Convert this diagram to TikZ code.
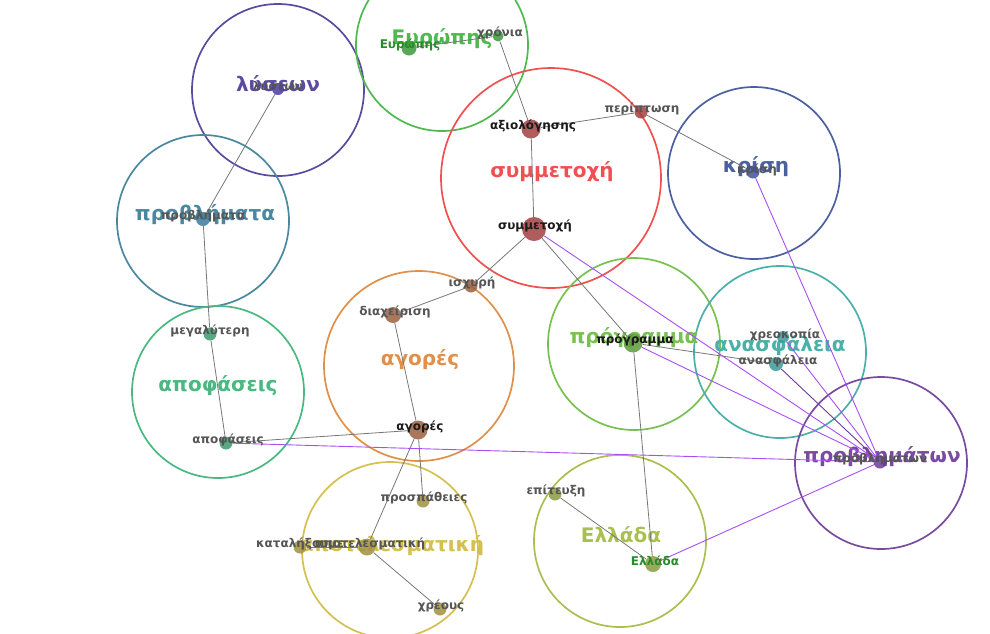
\documentclass[tikz,border=0pt]{standalone}
\usepackage{fontspec}
\setmainfont{DejaVu Sans}
\pgfdeclarelayer{bg}
\pgfdeclarelayer{edges}
\pgfsetlayers{bg,edges,main}
\definecolor{cLys}{HTML}{5A4AA0}
\definecolor{cEur}{HTML}{50B850}
\definecolor{cSym}{HTML}{F05050}
\definecolor{cKri}{HTML}{4A60A0}
\definecolor{cPro}{HTML}{4A88A0}
\definecolor{cAgo}{HTML}{E0904A}
\definecolor{cApo}{HTML}{4AB880}
\definecolor{cPrg}{HTML}{78C050}
\definecolor{cAsf}{HTML}{4AB0A8}
\definecolor{cPbm}{HTML}{7A4AA0}
\definecolor{cApt}{HTML}{D4C050}
\definecolor{cEll}{HTML}{A8C050}
\definecolor{dLys}{HTML}{4A3AA8}
\definecolor{dEur}{HTML}{3A9A3A}
\definecolor{dSym}{HTML}{A04040}
\definecolor{dKri}{HTML}{4050A0}
\definecolor{dPro}{HTML}{3A7A9A}
\definecolor{dAgo}{HTML}{9A6040}
\definecolor{dApo}{HTML}{3A9A6A}
\definecolor{dPrg}{HTML}{5A9A3A}
\definecolor{dAsf}{HTML}{3A9A9A}
\definecolor{dPbm}{HTML}{6A3A9A}
\definecolor{dApt}{HTML}{A09040}
\definecolor{dEll}{HTML}{8A9A40}
\definecolor{lnkgray}{HTML}{777777}
\definecolor{lnkviol}{HTML}{A84EF5}
\definecolor{lblblk}{HTML}{1A1A1A}
\definecolor{lblgry}{HTML}{555555}
\definecolor{lblgrn}{HTML}{2A8A2A}
\tikzset{
  clu/.style={circle,draw=#1,line width=1.7pt,minimum size=172pt,inner sep=0pt},
  big/.style={font=\fontsize{20}{20}\selectfont\bfseries,text=#1},
  dot/.style={circle,fill=#1,fill opacity=0.85,minimum size=14pt,inner sep=0pt},
  sm/.style={font=\fontsize{12}{12}\selectfont\bfseries,text=#1,inner sep=0pt},
  lnk/.style={draw=lnkgray,line width=0.8pt},
  vlnk/.style={draw=lnkviol,line width=0.9pt}
}
\begin{document}
\begin{tikzpicture}[x=1pt,y=-1pt]
\useasboundingbox (0,0) rectangle (990,633);
\clip (0,0) rectangle (990,633);
% clusters
\begin{pgfonlayer}{bg}
\node[clu=cLys] (kLys) at (278,90) {};
\node[clu=cEur] (kEur) at (442,45) {};
\node[clu=cSym,minimum size=220pt] (kSym) at (551,178) {};
\node[clu=cKri] (kKri) at (754,173) {};
\node[clu=cPro] (kPro) at (203,221) {};
\node[clu=cAgo,minimum size=190pt] (kAgo) at (419,366) {};
\node[clu=cApo] (kApo) at (218,392) {};
\node[clu=cPrg] (kPrg) at (634,344) {};
\node[clu=cAsf] (kAsf) at (780,352) {};
\node[clu=cPbm] (kPbm) at (881,463) {};
\node[clu=cApt,minimum size=176pt] (kApt) at (390,550) {};
\node[clu=cEll] (kEll) at (620,541) {};
\node[big=cLys] (tLys) at (278,84) {λύσεων};
\node[big=cEur] (tEur) at (442,39) {Ευρώπης};
\node[big=cSym] (tSym) at (552,172) {συμμετοχή};
\node[big=cKri] (tKri) at (756,167) {κρίση};
\node[big=cPro] (tPro) at (205,215) {προβλήματα};
\node[big=cAgo] (tAgo) at (420,360) {αγορές};
\node[big=cApo] (tApo) at (218,386) {αποφάσεις};
\node[big=cPrg] (tPrg) at (634,338) {πρόγραμμα};
\node[big=cAsf] (tAsf) at (780,346) {ανασφάλεια};
\node[big=cPbm] (tPbm) at (882,457) {προβλημάτων};
\node[big=cApt] (tApt) at (392,546) {αποτελεσματική};
\node[big=cEll] (tEll) at (621,535) {Ελλάδα};
\end{pgfonlayer}
% words
\node[dot=dLys,minimum size=12pt] (nLys) at (278,89) {};
\node[dot=dEur,minimum size=15pt] (nEur) at (409,48) {};
\node[dot=dEur,minimum size=11pt] (nXro) at (498,36) {};
\node[dot=dSym,minimum size=19pt] (nAxi) at (531,129) {};
\node[dot=dSym,minimum size=13pt] (nPer) at (641,112) {};
\node[dot=dSym,minimum size=24pt] (nSym) at (534,229) {};
\node[dot=dKri,minimum size=13pt] (nKri) at (753,172) {};
\node[dot=dPro,minimum size=14pt] (nPro) at (203,219) {};
\node[dot=dAgo,minimum size=16pt] (nDia) at (393,315) {};
\node[dot=dAgo,minimum size=13pt] (nIsx) at (471,286) {};
\node[dot=dAgo,minimum size=19pt] (nAgo) at (418,430) {};
\node[dot=dApo,minimum size=13pt] (nMeg) at (210,334) {};
\node[dot=dApo,minimum size=13pt] (nApo) at (226,443) {};
\node[dot=dPrg,minimum size=19pt] (nPrg) at (633,343) {};
\node[dot=dAsf,minimum size=12pt] (nXre) at (783,337) {};
\node[dot=dAsf,minimum size=14pt] (nAsf) at (776,364) {};
\node[dot=dPbm,minimum size=13pt] (nPbm) at (880,462) {};
\node[dot=dApt,minimum size=13pt] (nKat) at (300,547) {};
\node[dot=dApt,minimum size=17pt] (nApt) at (367,547) {};
\node[dot=dApt,minimum size=13pt] (nPrs) at (423,501) {};
\node[dot=dApt,minimum size=13pt] (nXrf) at (440,609) {};
\node[dot=dEll,minimum size=13pt] (nEpi) at (555,494) {};
\node[dot=dEll,minimum size=16pt] (nEll) at (653,564) {};
% links
\begin{pgfonlayer}{edges}
\draw[lnk] (nLys)--(nPro)--(nMeg)--(nApo)--(nAgo);
\draw[lnk] (nEur)--(nXro)--(nAxi)--(nPer)--(nKri);
\draw[lnk] (nAxi)--(nSym)--(nIsx)--(nDia)--(nAgo);
\draw[lnk] (nSym)--(nPrg)--(nAsf);
\draw[lnk] (nPrg)--(nEll);
\draw[lnk] (nAgo)--(nPrs);
\draw[lnk] (nAgo)--(nApt)--(nXrf);
\draw[lnk] (nKat)--(nApt);
\draw[lnk] (nEpi)--(nEll);
\foreach \n in {nApo,nSym,nPrg,nKri,nXre,nEll}{\draw[vlnk] (\n)--(nPbm);}
\draw[vlnk,draw=dPbm] (nAsf)--(nPbm);
\end{pgfonlayer}
% labels
\node[sm=lblgry] (wLys) at (278,86) {λύσεων};
\node[sm=lblgrn] (wEur) at (410,45) {Ευρώπης};
\node[sm=lblgry] (wXro) at (500,33) {χρόνια};
\node[sm=lblblk] (wAxi) at (533,126) {αξιολόγησης};
\node[sm=lblgry] (wPer) at (642,109) {περίπτωση};
\node[sm=lblblk] (wSym) at (535,226) {συμμετοχή};
\node[sm=lblgry] (wKri) at (757,170) {κρίση};
\node[sm=lblgry] (wPro) at (203,216) {προβλήματα};
\node[sm=lblgry] (wDia) at (395,312) {διαχείριση};
\node[sm=lblgry] (wIsx) at (472,283) {ισχυρή};
\node[sm=lblblk] (wAgo) at (420,427) {αγορές};
\node[sm=lblgry] (wMeg) at (210,331) {μεγαλύτερη};
\node[sm=lblgry] (wApo) at (228,440) {αποφάσεις};
\node[sm=lblblk] (wPrg) at (635,340) {πρόγραμμα};
\node[sm=lblgry] (wXre) at (785,335) {χρεοκοπία};
\node[sm=lblgry] (wAsf) at (778,361) {ανασφάλεια};
\node[sm=lblgry] (wPbm) at (880,459) {προβλημάτων};
\node[sm=lblgry] (wKat) at (300,544) {καταλήξουμε};
\node[sm=lblgry] (wApt) at (370,544) {αποτελεσματική};
\node[sm=lblgry] (wPrs) at (424,498) {προσπάθειες};
\node[sm=lblgry] (wXrf) at (441,606) {χρέους};
\node[sm=lblgry] (wEpi) at (556,491) {επίτευξη};
\node[sm=lblgrn] (wEll) at (655,561) {Ελλάδα};
\end{tikzpicture}
\end{document}
